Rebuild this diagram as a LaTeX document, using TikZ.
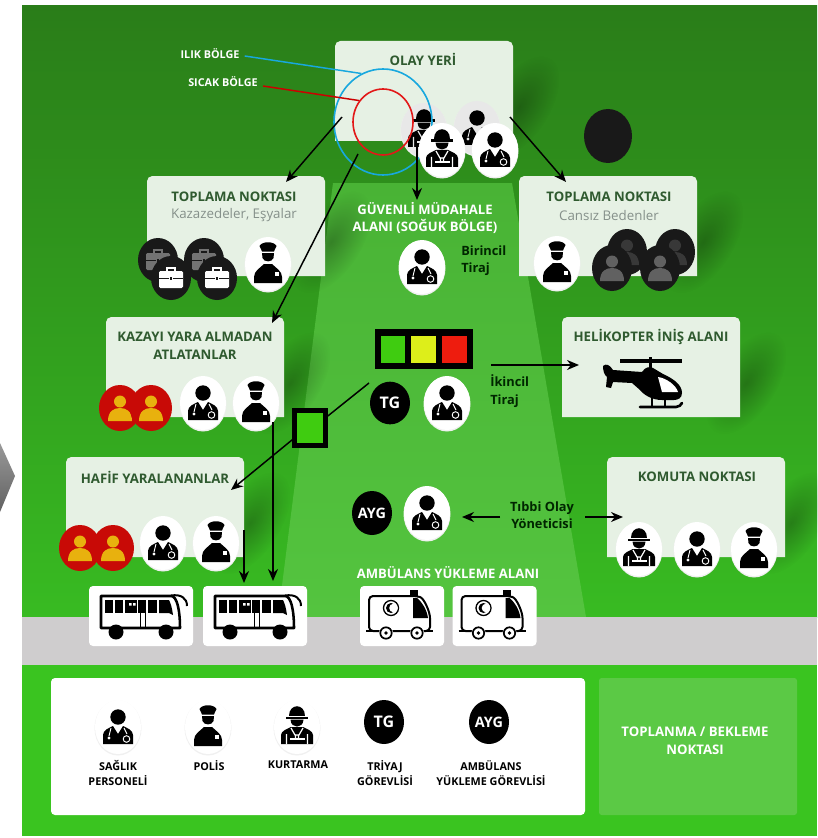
\documentclass[tikz,border=0pt]{standalone}
\usepackage{fontspec}
\setmainfont{Open Sans}
\usetikzlibrary{arrows.meta,fadings,shapes.geometric}
\definecolor{bgtop}{HTML}{2A7D19}
\definecolor{bgbot}{HTML}{38BB22}
\definecolor{traptop}{HTML}{49B335}
\definecolor{trapbot}{HTML}{54C43F}
\definecolor{band}{HTML}{3AC420}
\definecolor{road}{HTML}{CFCDCE}
\definecolor{panelc}{HTML}{E6F1E4}
\definecolor{titlec}{HTML}{2F5A2F}
\definecolor{subc}{HTML}{85908A}
\definecolor{redp}{HTML}{C80A06}
\definecolor{ambp}{HTML}{E8B10E}
\definecolor{restb}{HTML}{5BC945}
\definecolor{warmc}{HTML}{18A8DE}
\definecolor{hotc}{HTML}{E21818}
\definecolor{lampg}{HTML}{3FCC10}
\definecolor{lampy}{HTML}{DDEE1A}
\definecolor{lampr}{HTML}{EE1C0E}
\colorlet{ovalc}{white}
\tikzfading[name=softblob,inner color=transparent!72,outer color=transparent!100]
\tikzset{
 x=0.75pt,y=-0.75pt,
 title/.style={font=\bfseries\fontsize{9.9}{13.2}\selectfont,text=titlec,align=center,inner sep=0pt},
 subtitle/.style={font=\fontsize{10}{12}\selectfont,text=subc,align=center,inner sep=0pt},
 whitetext/.style={font=\bfseries\fontsize{9.8}{13.4}\selectfont,text=white,align=center,inner sep=0pt},
 smallwhite/.style={font=\bfseries\fontsize{8.1}{10}\selectfont,text=white,align=center,inner sep=0pt},
 blacktext/.style={font=\bfseries\fontsize{9.6}{13}\selectfont,text=black!85!green,align=left,inner sep=0pt},
 legendtext/.style={font=\bfseries\fontsize{8.1}{11.2}\selectfont,text=black,align=center,inner sep=0pt},
 arrowline/.style={draw=black,line width=1.1pt,-{Stealth[length=9pt,width=7.5pt]}},
 plainline/.style={draw=black,line width=1.1pt},
 vehiclebox/.style={fill=white,rounded corners=3pt,minimum width=78pt,minimum height=45pt,inner sep=0pt},
 tgnode/.style={ellipse,fill=black,text=white,inner sep=0pt,minimum width=30pt,minimum height=32pt,font=\bfseries\fontsize{12}{13}\selectfont},
 aygnode/.style={tgnode,font=\bfseries\fontsize{10.8}{12}\selectfont},
 ringnode/.style={ellipse,fill=none,line width=1.2pt,inner sep=0pt},
 pics/doctor/.style={code={
  \fill[black!6] (0,1) ellipse [x radius=23.5,y radius=27.5];
  \fill[ovalc] (0,0) ellipse [x radius=23,y radius=27];
  \fill[black] (0,-10) circle (7.7);
  \fill[black] (-15,17) -- (-15,8) .. controls (-15,3) and (-9,1) .. (-5,-1) -- (0,7) -- (5,-1) .. controls (9,1) and (15,3) .. (15,8) -- (15,17) -- cycle;
  \draw[ovalc,line width=.7pt] (-7,1) -- (-9,9) (6,1) -- (9,7);
  \fill[ovalc] (-9,11) circle (1.7);
  \draw[ovalc,line width=.7pt] (8.5,12) circle (3.3);
 }},
 pics/police/.style={code={
  \fill[black!6] (0,1) ellipse [x radius=23.5,y radius=27.5];
  \fill[ovalc] (0,0) ellipse [x radius=23,y radius=27];
  \fill[black] (-8.5,-18) .. controls (-6,-23) and (6,-23) .. (8.5,-18) .. controls (8,-15.5) and (6,-14.5) .. (6,-12.5) -- (-6,-12.5) .. controls (-6,-14.5) and (-8,-15.5) .. (-8.5,-18) -- cycle;
  \fill[black] (-6,-11) -- (6,-11) -- (5.5,-6) .. controls (4,-1.5) and (-4,-1.5) .. (-5.5,-6) -- cycle;
  \fill[black] (-14,19) -- (-14,13) .. controls (-14,7) and (-8,4) .. (-4,0) -- (4,0) .. controls (8,4) and (14,7) .. (14,13) -- (14,19) -- cycle;
  \fill[ovalc] (7,8) rectangle (11,12);
 }},
 pics/rescuer/.style={code={
  \fill[black!6] (0,1) ellipse [x radius=23.5,y radius=27.5];
  \fill[ovalc] (0,0) ellipse [x radius=23,y radius=27];
  \fill[black] (-8,-11) .. controls (-8,-24) and (8,-24) .. (8,-11) -- cycle;
  \fill[black] (-11,-10.5) rectangle (11,-8.3);
  \fill[black] (-6.5,-7.3) -- (6.5,-7.3) .. controls (6,-2) and (3,-.5) .. (0,-.5) .. controls (-3,-.5) and (-6,-2) .. (-6.5,-7.3) -- cycle;
  \fill[black] (-16,17) -- (-16,8) .. controls (-16,4) and (-10,2) .. (-6,0) -- (6,0) .. controls (10,2) and (16,4) .. (16,8) -- (16,17) -- cycle;
  \draw[ovalc,line width=.9pt] (-10.5,7) -- (-10.5,17) (10.5,7) -- (10.5,17) (-6,1) -- (-2,8) -- (2,8) -- (6,1) (-1.5,8) -- (-1.5,11) (1.5,8) -- (1.5,11);
  \fill[ovalc] (-7.5,11) rectangle (7.5,13);
 }},
 pics/injured/.style={code={
  \fill[redp] (0,0) ellipse [x radius=21,y radius=23];
  \fill[ambp] (0,-6.5) circle (6);
  \fill[ambp] (-12,13) .. controls (-12,3) and (-6,0) .. (0,0) .. controls (6,0) and (12,3) .. (12,13) -- cycle;
 }},
 pics/deceased/.style={code={
  \fill[black!90] (0,0) ellipse [x radius=20,y radius=23];
  \fill[#1] (0,-6.5) circle (6);
  \fill[#1] (-12,13) .. controls (-12,3) and (-6,0) .. (0,0) .. controls (6,0) and (12,3) .. (12,13) -- cycle;
 }},
 pics/baggage/.style={code={
  \fill[black!90] (0,0) ellipse [x radius=20,y radius=22];
  \fill[#1,rounded corners=1pt] (-12,-7) rectangle (12,10);
  \draw[#1,line width=.8pt] (-4,-7) -- (-4,-10) -- (4,-10) -- (4,-7);
  \draw[black!90,line width=.5pt] (-12,0) -- (-2,0) (2,0) -- (12,0);
  \fill[black!90] (-1,-1.5) rectangle (1,1.5);
 }},
 pics/bus/.style={code={
  \draw[black,fill=white,line width=1.9pt,line join=round] (-40,-20) -- (30,-20) .. controls (36,-20) and (39,-6) .. (39,12) -- (-40,12) -- cycle;
  \fill[black] (-36,-16) rectangle (-28,-3);
  \fill[black] (-26,-16) rectangle (-18,-3);
  \fill[black] (-16,-16) rectangle (-4,-3);
  \fill[white] (-12,-13) rectangle (-9.5,-10.5) (-8,-13) rectangle (-5.5,-10.5);
  \fill[black] (-3,-16) rectangle (5,-3);
  \fill[black] (7,-16) rectangle (16,-3);
  \fill[black] (18,-16) -- (28,-16) .. controls (30,-12) and (31,-8) .. (32,-1) -- (28,-3) -- (18,-3) -- cycle;
  \fill[black] (-1.5,-3) rectangle (-.5,12);
  \fill[black] (4,-3) rectangle (5,12);
  \draw[black,line width=1.5pt] (30,-20.5) .. controls (40,-22) and (46,-18) .. (46,-10);
  \fill[black] (-25,16) circle (7.5);
  \fill[black] (25,16) circle (7.5);
 }},
 pics/ambulance/.style={code={
  \fill[black] (8,-26) rectangle (16,-20);
  \draw[black,fill=white,line width=1.5pt,rounded corners=3pt] (-33,-20) -- (14,-20) .. controls (22,-18) and (28,-4) .. (28,6) -- (28,15) -- (-33,15) -- cycle;
  \draw[black,line width=1.5pt] (-36,15) -- (31,15);
  \fill[black] (11,-18) -- (15,-18) .. controls (20,-14) and (25,-6) .. (26,2) -- (11,2) -- cycle;
  \draw[black,line width=1pt] (-11,-8) circle (7.5);
  \fill[black] (-11,-8) circle (5);
  \fill[white] (-8.5,-8) circle (4.3);
  \foreach \wx in {-16,15}{
   \fill[white] (\wx,17) circle (7);
   \draw[black,line width=1.3pt] (\wx,17) circle (5.7);
   \fill[black] (\wx,17) circle (1.9);
  }
 }},
 pics/helicopter/.style={code={
  \draw[black,line width=2.3pt] (-30,-22) -- (32,-22);
  \fill[black] (-1,-26) rectangle (1.5,-15);
  \fill[black] (-47,-17) .. controls (-44,-20) and (-40,-18) .. (-37,-13) -- (-8,-11) .. controls (-5,-16) and (0,-17) .. (3,-15) -- (13,-9) .. controls (24,-4) and (32,2) .. (32,10) .. controls (32,15) and (28,17) .. (24,17) -- (12,17) .. controls (2,17) and (-6,12) .. (-10,7) -- (-18,0) -- (-37,-1) -- (-39,5) -- (-44,4) -- (-43,-6) .. controls (-46,-8) and (-47,-13) .. (-47,-17) -- cycle;
  \fill[white] (8,-6) .. controls (16,-5) and (26,2) .. (28,9) -- (12,9) -- cycle;
  \draw[black,line width=2pt,line cap=round] (-10,24) -- (26,24) .. controls (29,24) and (31,22) .. (32,20);
  \draw[black,line width=1.4pt] (2,15) -- (2,24) (15,15) -- (15,24);
 }}
}
\newcommand{\PanelAt}[3]{% name, left, top
  \fill[panelc,rounded corners=4pt] (#2,#3+100) [sharp corners] -- (#2,#3+50) [rounded corners=4pt] -- (#2,#3) -- (#2+178,#3) -- (#2+178,#3+50) [sharp corners] -- (#2+178,#3+100) -- cycle;
  \coordinate (#1) at (#2+89,#3+50);
}
\newcommand{\CastShadow}[2]{% right, bottom
  \fill[black,path fading=softblob,transform canvas={shift={(#1+6,#2-34)},rotate=-33}] (0,0) ellipse [x radius=30,y radius=58];
}
\begin{document}
\begin{tikzpicture}
\useasboundingbox (0,0) rectangle (817,838);
\fill[white] (0,0) rectangle (817,838);
% page chevron
\shade[top color=black!40,bottom color=black!62] (0,443) -- (15,476) -- (0,512) -- cycle;
% ground
\shade[top color=bgtop,bottom color=bgbot] (22,6) rectangle (817,617);
\shade[top color=traptop,bottom color=trapbot] (333,183) -- (512,183) -- (586,617) -- (278,617) -- cycle;
\fill[road] (22,617) rectangle (817,665);
\fill[band] (22,665) rectangle (817,836);
% cast shadows
\CastShadow{513}{141}
\CastShadow{325}{276}
\CastShadow{697}{276}
\CastShadow{284}{417}
\CastShadow{244}{557}
\CastShadow{740}{417}
\CastShadow{785}{557}
% stray dark disc
\fill[black!90] (608,136) ellipse [x radius=24,y radius=27];
% panels
\PanelAt{olay}{335}{41}
\PanelAt{toplamaL}{147}{176}
\PanelAt{toplamaR}{519}{176}
\PanelAt{kazayi}{106}{317}
\PanelAt{hafif}{66}{457}
\PanelAt{heli}{562}{317}
\PanelAt{komuta}{607}{457}
% panel texts
\node[title] (tOlay) at (423,59) {OLAY YERİ};
\node[title] (tTopL) at (234,197) {TOPLAMA NOKTASI};
\node[subtitle] (sTopL) at (234,215) {Kazazedeler, Eşyalar};
\node[title] (tTopR) at (609,197) {TOPLAMA NOKTASI};
\node[subtitle] (sTopR) at (609,215) {Cansız Bedenler};
\node[title] (tKaz) at (195,346) {KAZAYI YARA ALMADAN\\ATLATANLAR};
\node[title] (tHaf) at (155,477) {HAFİF YARALANANLAR};
\node[title] (tHeli) at (651,337) {HELİKOPTER İNİŞ ALANI};
\node[title] (tKom) at (697,477) {KOMUTA NOKTASI};
% ghost people in the scene
\begin{scope}
\colorlet{ovalc}{black!9}
\pic at (424,130) {rescuer};
\pic at (477,128) {doctor};
\end{scope}
% zones
\node[smallwhite] (nIlik) at (210,54) {ILIK BÖLGE};
\node[smallwhite] (nSicak) at (223,82) {SICAK BÖLGE};
\node[ringnode,draw=warmc,minimum width=73.5pt,minimum height=79.5pt] (warm) at (383,122) {};
\node[ringnode,draw=hotc,minimum width=45pt,minimum height=49.5pt] (hot) at (383,122) {};
\draw[warmc,line width=1.1pt] (nIlik.east) ++(5,2) -- (warm.114);
\draw[red!80!black,line width=1.1pt] (nSicak.east) ++(5,4) -- (hot.138);
\pic at (442,150) {rescuer};
\pic at (495,150) {doctor};
% toplama L
\pic at (158,260) {baggage=black!55};
\pic at (204,260) {baggage=black!55};
\pic at (171,278) {baggage=white};
\pic at (217,278) {baggage=white};
\pic at (268,264) {police};
% toplama R
\pic at (557,263) {police};
\pic at (627,252) {deceased=black!78};
\pic at (675,252) {deceased=black!78};
\pic at (612,268) {deceased=black!62};
\pic at (660,268) {deceased=black!62};
% safe area
\node[whitetext] (tSafe) at (425,218) {GÜVENLİ MÜDAHALE\\ALANI (SOĞUK BÖLGE)};
\pic at (422,267) {doctor};
\node[blacktext,anchor=west] (tBir) at (461,261) {Birincil\\Tiraj};
% kazayi
\pic at (120,408) {injured};
\pic at (151,408) {injured};
\pic at (203,403) {doctor};
\pic at (256,403) {police};
% hafif
\pic at (80,548) {injured};
\pic at (113,548) {injured};
\pic at (163,543) {doctor};
\pic at (216,543) {police};
% triage
\node[fill=black,minimum width=73.5pt,minimum height=30pt,inner sep=0pt] (triage) at (424,349) {};
\fill[lampg] (381,336) rectangle (405,363);
\fill[lampy] (411,336) rectangle (436,363);
\fill[lampr] (442,336) rectangle (467,363);
\node[tgnode] (tg) at (390,403) {TG};
\pic at (447,403) {doctor};
\node[blacktext,anchor=west] (tIk) at (490,391) {İkincil\\Tiraj};
\node[fill=lampg,draw=black,line width=3.7pt,minimum width=23pt,minimum height=26pt,inner sep=0pt] (minigreen) at (310,428) {};
% helicopter
\pic at (650,383) {helicopter};
% komuta
\pic at (639,549) {rescuer};
\pic at (697,549) {doctor};
\pic at (754,549) {police};
% ayg
\node[aygnode,minimum height=33pt] (ayg) at (372,513) {AYG};
\pic at (427,513) {doctor};
\node[blacktext,align=center] (tTibbi) at (542,515) {Tıbbi Olay\\Yöneticisi};
% loading
\node[whitetext] (tLoad) at (448,573) {AMBÜLANS YÜKLEME ALANI};
\node[vehiclebox] (bus1) at (141,616) {};
\node[vehiclebox] (bus2) at (255,616) {};
\node[vehiclebox,minimum width=63pt] (amb1) at (402,616) {};
\node[vehiclebox,minimum width=63pt] (amb2) at (494.5,616) {};
\pic at (bus1) {bus};
\pic at (bus2) {bus};
\pic at (amb1) {ambulance};
\pic at (amb2) {ambulance};
% connectors
\coordinate (aL) at (342,117);
\coordinate (aLt) at (286,182);
\coordinate (aK) at (358,154);
\coordinate (aKt) at (272,323);
\coordinate (aD) at (417,147);
\coordinate (aDt) at (417,200);
\coordinate (aR) at (510,117);
\coordinate (aRt) at (566,182);
\coordinate (aTg) at (369,383);
\coordinate (aHt) at (231,490);
\coordinate (aB1) at (244,530);
\coordinate (aB1t) at (244,583);
\coordinate (aB2) at (273,422);
\coordinate (aB2t) at (273,581);
\coordinate (aH) at (491,365);
\coordinate (aHe) at (579,365);
\coordinate (aM1) at (500,517);
\coordinate (aM1t) at (462,517);
\coordinate (aM2) at (585,517);
\coordinate (aM2t) at (623,517);
\draw[arrowline] (aL) -- (aLt);
\draw[arrowline] (aK) -- (aKt);
\draw[arrowline] (aD) -- (aDt);
\draw[arrowline] (aR) -- (aRt);
\draw[plainline] (aTg) -- ([yshift=9pt]minigreen.east);
\draw[arrowline] ([yshift=6pt]minigreen.south west) -- (aHt);
\draw[arrowline] (aB1) -- (aB1t);
\draw[arrowline] (aB2) -- (aB2t);
\draw[arrowline] (aH) -- (aHe);
\draw[arrowline] (aM1) -- (aM1t);
\draw[arrowline] (aM2) -- (aM2t);
% legend
\fill[white,rounded corners=3pt] (51,678) rectangle (585,815);
\fill[restb,rounded corners=2pt] (599,678) rectangle (797,815);
\node[whitetext,font=\bfseries\fontsize{9.9}{13.4}\selectfont] (tRest) at (695,741) {TOPLANMA / BEKLEME\\NOKTASI};
\pic at (118,727) {doctor};
\pic at (208,727) {police};
\pic at (297,727) {rescuer};
\node[tgnode,minimum height=33pt] (legTg) at (384,722) {TG};
\node[aygnode,minimum height=33pt] (legAyg) at (489,722) {AYG};
\node[legendtext,anchor=north] (l1) at (118,760) {SAĞLIK\\PERSONELİ};
\node[legendtext,anchor=north] (l2) at (209,760) {POLİS};
\node[legendtext,anchor=north] (l3) at (298,760) {KURTARMA};
\node[legendtext,anchor=north] (l4) at (385,760) {TRİYAJ\\GÖREVLİSİ};
\node[legendtext,anchor=north] (l5) at (491,760) {AMBÜLANS\\YÜKLEME GÖREVLİSİ};
\end{tikzpicture}
\end{document}
